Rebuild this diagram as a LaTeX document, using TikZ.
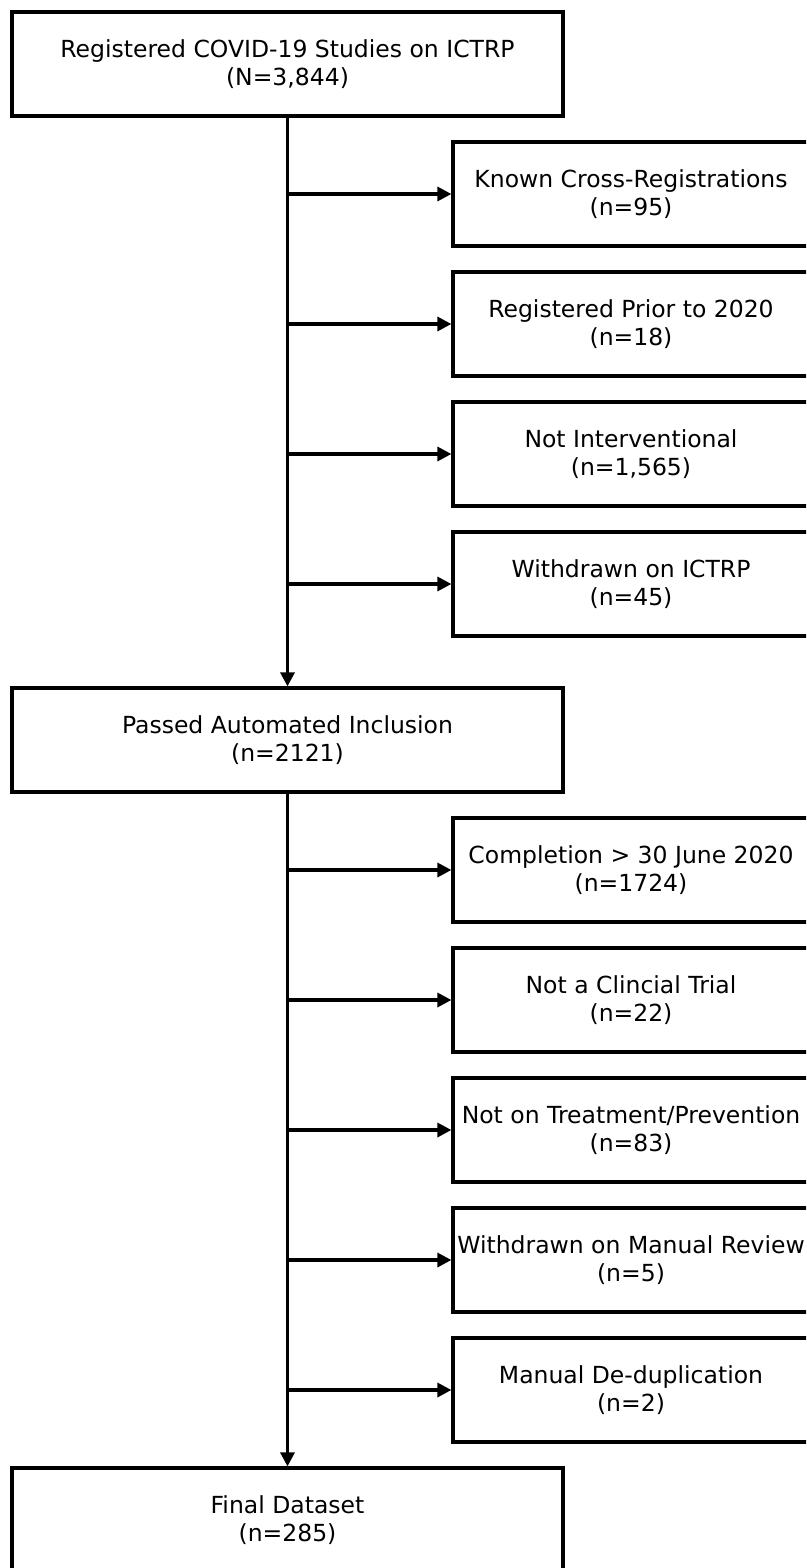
\documentclass[tikz,border=0pt]{standalone}
\usepackage{fontspec}
\setmainfont{DejaVu Sans}
\usetikzlibrary{arrows.meta}
\begin{document}
\begin{tikzpicture}[x=1pt,y=-1pt,
  box/.style={draw,line width=3.2pt,rectangle,inner sep=0pt,align=center,
    font=\fontsize{23.5}{28}\selectfont},
  mainbox/.style={box,minimum width=551pt,minimum height=104pt},
  sidebox/.style={box,minimum width=356pt,minimum height=104pt},
  conn/.style={line width=3.2pt,-{Triangle[length=14pt,width=14pt]}}]
\useasboundingbox (0,0) rectangle (806,1568);
\clip (0,0) rectangle (806,1568);
\node[mainbox] (reg) at (287.5,64) {Registered COVID-19 Studies on ICTRP\\(N=3,844)};
\node[sidebox] (k1) at (631,194) {Known Cross-Registrations\\(n=95)};
\node[sidebox] (k2) at (631,324) {Registered Prior to 2020\\(n=18)};
\node[sidebox] (k3) at (631,454) {Not Interventional\\(n=1,565)};
\node[sidebox] (k4) at (631,584) {Withdrawn on ICTRP\\(n=45)};
\node[mainbox] (pass) at (287.5,740) {Passed Automated Inclusion\\(n=2121)};
\node[sidebox] (m1) at (631,870) {Completion > 30 June 2020\\(n=1724)};
\node[sidebox] (m2) at (631,1000) {Not a Clincial Trial\\(n=22)};
\node[sidebox] (m3) at (631,1130) {Not on Treatment/Prevention\\(n=83)};
\node[sidebox] (m4) at (631,1260) {Withdrawn on Manual Review\\(n=5)};
\node[sidebox] (m5) at (631,1390) {Manual De-duplication\\(n=2)};
\node[mainbox] (final) at (287.5,1520) {Final Dataset\\(n=285)};
\draw[conn] (reg.south) -- (pass.north);
\draw[conn] (pass.south) -- (final.north);
\foreach \n/\yy in {k1/194,k2/324,k3/454,k4/584,m1/870,m2/1000,m3/1130,m4/1260,m5/1390}{
  \coordinate (b\n) at (287.5,\yy);
  \draw[conn] (b\n) -- (\n.west);
}
\end{tikzpicture}
\end{document}
